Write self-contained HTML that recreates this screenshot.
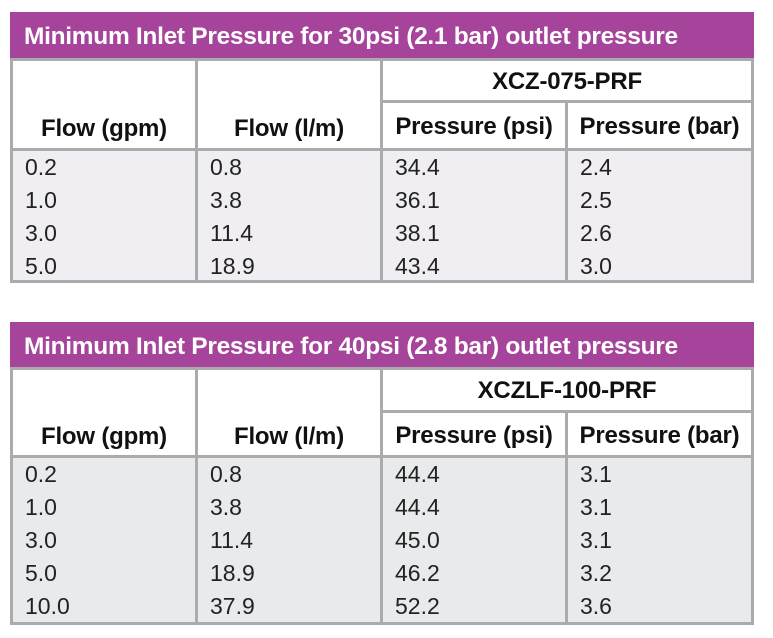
<!DOCTYPE html>
<html><head><meta charset="utf-8"><style>
body{margin:0;width:773px;height:638px;background:#fff;position:relative;font-family:"Liberation Sans",sans-serif;overflow:hidden}
.t{position:absolute;left:10px;width:744px;background:#a9abad}
.ti{position:absolute;left:0;top:0;width:744px;height:46px;background:#a6449b;color:#fff;font-weight:bold;font-size:24.5px;line-height:50px;padding-left:14px;box-sizing:border-box;letter-spacing:-0.3px;white-space:nowrap}
.c{position:absolute;background:#fff;font-weight:bold;font-size:24px;color:#111;text-align:center;box-sizing:border-box;white-space:nowrap;letter-spacing:-0.2px}
.b{position:absolute;font-size:23px;color:#222;padding-left:12px;box-sizing:border-box}
.b div{height:33px;line-height:33px}
</style></head><body>

<div class="t" style="top:12px;height:271px">
 <div class="ti">Minimum Inlet Pressure for 30psi (2.1 bar) outlet pressure</div>
 <div class="c" style="left:3px;top:49px;width:182px;height:87px;line-height:136px">Flow (gpm)</div>
 <div class="c" style="left:188px;top:49px;width:182px;height:87px;line-height:136px">Flow (l/m)</div>
 <div class="c" style="left:373px;top:49px;width:368px;height:39px;line-height:42px">XCZ-075-PRF</div>
 <div class="c" style="left:373px;top:91px;width:182px;height:45px;line-height:48px">Pressure (psi)</div>
 <div class="c" style="left:558px;top:91px;width:183px;height:45px;line-height:48px">Pressure (bar)</div>
 <div class="b" style="left:3px;top:139px;width:182px;height:129px;background:#f0eef2"><div>0.2</div><div>1.0</div><div>3.0</div><div>5.0</div></div>
 <div class="b" style="left:188px;top:139px;width:182px;height:129px;background:#f0eef2"><div>0.8</div><div>3.8</div><div>11.4</div><div>18.9</div></div>
 <div class="b" style="left:373px;top:139px;width:182px;height:129px;background:#f0eef2"><div>34.4</div><div>36.1</div><div>38.1</div><div>43.4</div></div>
 <div class="b" style="left:558px;top:139px;width:183px;height:129px;background:#f0eef2"><div>2.4</div><div>2.5</div><div>2.6</div><div>3.0</div></div>
</div>

<div class="t" style="top:322px;height:303px">
 <div class="ti" style="height:45px">Minimum Inlet Pressure for 40psi (2.8 bar) outlet pressure</div>
 <div class="c" style="left:3px;top:48px;width:182px;height:85px;line-height:134px">Flow (gpm)</div>
 <div class="c" style="left:188px;top:48px;width:182px;height:85px;line-height:134px">Flow (l/m)</div>
 <div class="c" style="left:373px;top:48px;width:368px;height:40px;line-height:42px">XCZLF-100-PRF</div>
 <div class="c" style="left:373px;top:91px;width:182px;height:42px;line-height:46px">Pressure (psi)</div>
 <div class="c" style="left:558px;top:91px;width:183px;height:42px;line-height:46px">Pressure (bar)</div>
 <div class="b" style="left:3px;top:136px;width:182px;height:164px;background:#e8eaeb"><div>0.2</div><div>1.0</div><div>3.0</div><div>5.0</div><div>10.0</div></div>
 <div class="b" style="left:188px;top:136px;width:182px;height:164px;background:#e8eaeb"><div>0.8</div><div>3.8</div><div>11.4</div><div>18.9</div><div>37.9</div></div>
 <div class="b" style="left:373px;top:136px;width:182px;height:164px;background:#e8eaeb"><div>44.4</div><div>44.4</div><div>45.0</div><div>46.2</div><div>52.2</div></div>
 <div class="b" style="left:558px;top:136px;width:183px;height:164px;background:#e8eaeb"><div>3.1</div><div>3.1</div><div>3.1</div><div>3.2</div><div>3.6</div></div>
</div>
</body></html>
